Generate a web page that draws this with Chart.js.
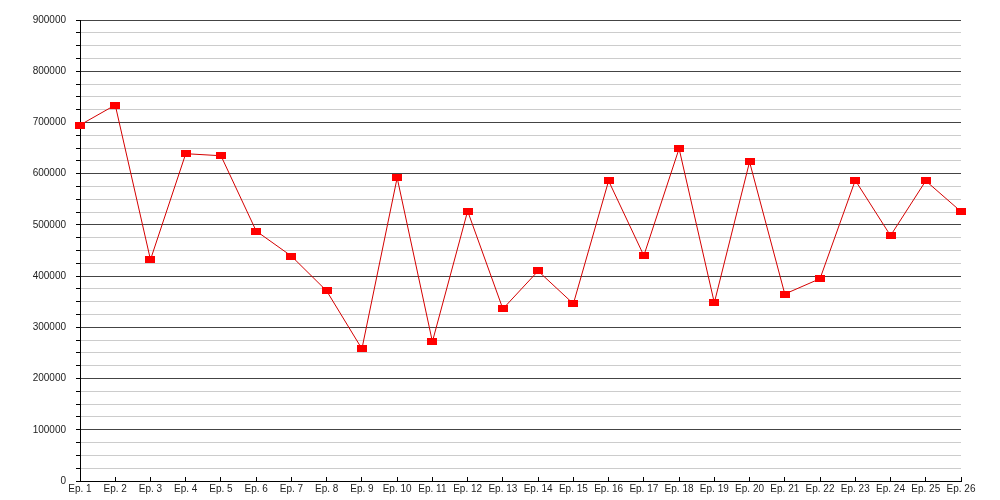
<!DOCTYPE html>
<html>
<head>
<meta charset="utf-8">
<script src="https://cdn.jsdelivr.net/npm/chart.js@4/dist/chart.umd.min.js"></script>
<style>
  html, body { margin: 0; padding: 0; background: #fff; }
  #wrap { width: 1000px; height: 500px; }
</style>
</head>
<body>
<div id="wrap"><canvas id="grafico" width="1000" height="500"></canvas></div>
<script>
// Datos del gráfico
const episodios = ['Ep. 1', 'Ep. 2', 'Ep. 3', 'Ep. 4', 'Ep. 5', 'Ep. 6', 'Ep. 7', 'Ep. 8', 'Ep. 9',
    'Ep. 10', 'Ep. 11', 'Ep. 12', 'Ep. 13', 'Ep. 14', 'Ep. 15', 'Ep. 16', 'Ep. 17', 'Ep. 18',
    'Ep. 19', 'Ep. 20', 'Ep. 21', 'Ep. 22', 'Ep. 23', 'Ep. 24', 'Ep. 25', 'Ep. 26'];
const valores = [695000, 734000, 432000, 639000, 635000, 488000, 439000, 371000, 258000,
    592000, 272000, 527000, 336000, 410000, 346000, 586000, 440000, 649000,
    348000, 623000, 365000, 395000, 587000, 479000, 586000, 526000];
const yMin = 0;
const yMax = 900000;
const pasoMenor = 25000;
const pasoMayor = 100000;

document.addEventListener('DOMContentLoaded', function() {
    // marcador rectangular rojo
    const marca = document.createElement('canvas');
    marca.width = 10;
    marca.height = 7;
    const mctx = marca.getContext('2d');
    mctx.fillStyle = '#ff0000';
    mctx.fillRect(0, 0, 10, 7);

    const fuente = { family: '"Liberation Sans", Arial, sans-serif', size: 10 };

    const ctx = document.getElementById('grafico').getContext('2d');
    new Chart(ctx, {
        type: 'line',
        data: {
            labels: episodios,
            datasets: [{
                data: valores,
                borderColor: '#d40000',
                borderWidth: 1,
                tension: 0,
                pointStyle: marca,
                pointRadius: 5,
                pointHoverRadius: 5,
                fill: false
            }]
        },
        options: {
            responsive: false,
            animation: false,
            devicePixelRatio: 1,
            layout: { padding: { top: 20, right: 39, left: 0, bottom: 0 } },
            plugins: {
                legend: { display: false },
                tooltip: { enabled: false }
            },
            scales: {
                x: {
                    offset: false,
                    border: { color: '#000', width: 1 },
                    grid: {
                        drawOnChartArea: false,
                        drawTicks: true,
                        tickLength: -4,
                        tickColor: '#000'
                    },
                    ticks: {
                        autoSkip: false,
                        maxRotation: 0,
                        padding: 6,
                        color: '#222',
                        font: fuente
                    },
                    afterFit: function(scale) { scale.height = 19; }
                },
                y: {
                    min: yMin,
                    max: yMax,
                    border: { color: '#000', width: 1 },
                    grid: {
                        color: function(c) {
                            return c.tick && c.tick.value % pasoMayor === 0 ? '#444444' : '#cccccc';
                        },
                        lineWidth: 1,
                        tickLength: 4,
                        tickColor: '#000'
                    },
                    ticks: {
                        stepSize: pasoMenor,
                        autoSkip: false,
                        padding: 10,
                        color: '#222',
                        font: fuente,
                        callback: function(v) {
                            return v % pasoMayor === 0 ? String(v) : '';
                        }
                    },
                    afterFit: function(scale) { scale.width = 80; }
                }
            }
        }
    });
});
</script>
</body>
</html>
